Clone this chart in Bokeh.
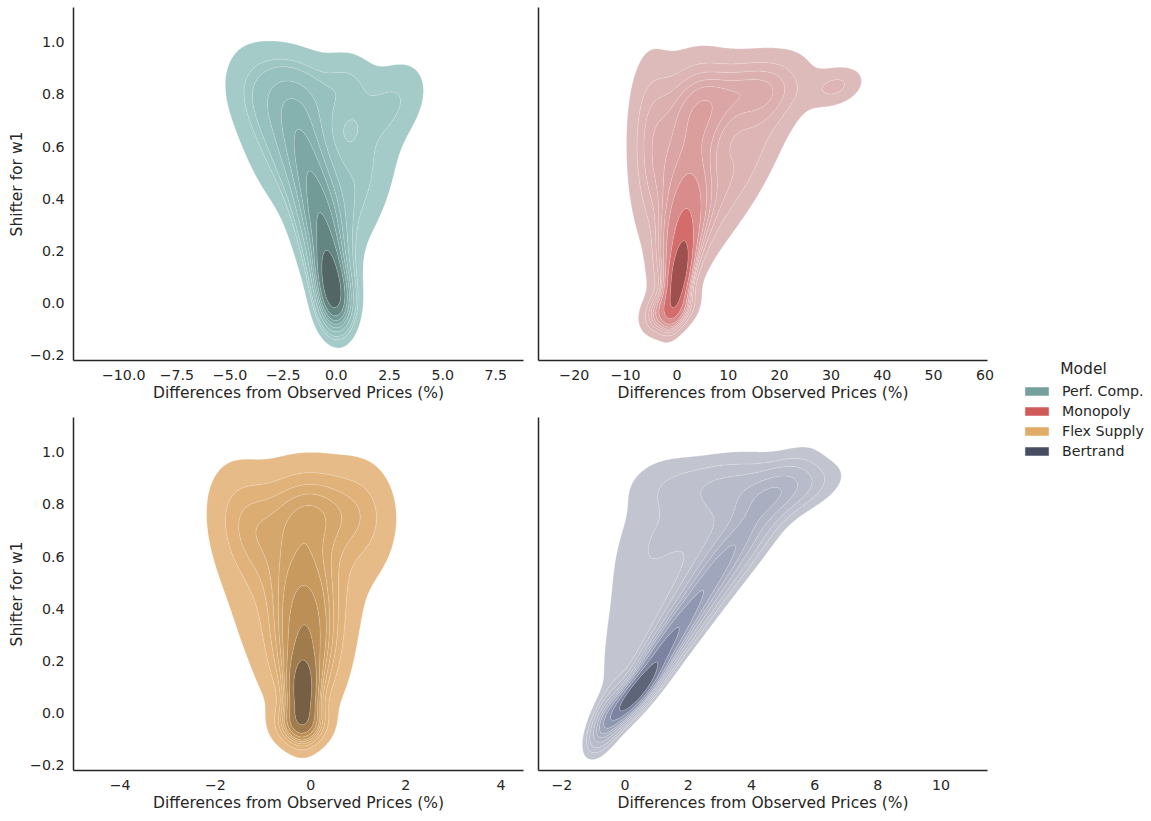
import math
import numpy as np
from bokeh.plotting import figure
from bokeh.layouts import row, column
from bokeh.models import FixedTicker, Legend, LegendItem, Label
from bokeh.embed import file_html
from bokeh.resources import INLINE

# ---------------- data ----------------
models = ["Perf. Comp.", "Monopoly", "Flex Supply", "Bertrand"]
model_colors = ["#76a09d", "#cf5a58", "#e0ac67", "#484e62"]

y_ticks = [-0.2, 0.0, 0.2, 0.4, 0.6, 0.8, 1.0]
y_tick_labels = ["\u22120.2", "0.0", "0.2", "0.4", "0.6", "0.8", "1.0"]

pc_x_ticks = [-10, -7.5, -5, -2.5, 0, 2.5, 5, 7.5]
pc_x_labels = ["\u221210.0", "\u22127.5", "\u22125.0", "\u22122.5", "0.0", "2.5", "5.0", "7.5"]
mo_x_ticks = [-20, -10, 0, 10, 20, 30, 40, 50, 60]
mo_x_labels = ["\u221220", "\u221210", "0", "10", "20", "30", "40", "50", "60"]
fs_x_ticks = [-4, -2, 0, 2, 4]
fs_x_labels = ["\u22124", "\u22122", "0", "2", "4"]
be_x_ticks = [-2, 0, 2, 4, 6, 8, 10]
be_x_labels = ["\u22122", "0", "2", "4", "6", "8", "10"]

# density components:
# centre x, centre y, spread x, spread y, correlation, weight
pc_mx = [-0.3, -0.5, -1.0, -1.6, -1.8, 0.9, -3.2, 0.0, 2.8, 0.6]
pc_my = [0.08, 0.22, 0.42, 0.62, 0.80, 0.45, 0.65, 0.0, 0.78, 0.85]
pc_sx = [0.45, 0.70, 0.85, 1.00, 1.70, 1.30, 1.20, 0.50, 1.00, 0.80]
pc_sy = [0.09, 0.14, 0.16, 0.15, 0.11, 0.20, 0.20, 0.07, 0.10, 0.08]
pc_rho = [-0.3, -0.5, -0.5, -0.4, -0.2, 0.5, -0.5, 0.0, 0.3, 0.0]
pc_w = [0.14, 0.16, 0.15, 0.13, 0.12, 0.12, 0.08, 0.06, 0.035, 0.02]

mo_mx = [0.4, 0.8, 2.0, 4.5, 15.0, 12.0, 31.0, -5.0, -1.5]
mo_my = [0.10, 0.25, 0.48, 0.75, 0.82, 0.50, 0.83, 0.60, -0.03]
mo_sx = [1.5, 2.8, 4.0, 5.0, 6.0, 7.0, 3.5, 3.0, 2.8]
mo_sy = [0.09, 0.14, 0.17, 0.13, 0.09, 0.22, 0.05, 0.22, 0.05]
mo_rho = [0.5, 0.4, 0.2, 0.0, 0.2, 0.8, 0.3, 0.0, 0.3]
mo_w = [0.13, 0.16, 0.16, 0.13, 0.10, 0.12, 0.02, 0.10, 0.05]

fs_mx = [-0.17, -0.12, -0.10, 0.0, -1.3, 1.1, -0.4, -0.2]
fs_my = [0.08, 0.25, 0.50, 0.78, 0.70, 0.74, 0.45, -0.04]
fs_sx = [0.20, 0.40, 0.50, 0.70, 0.50, 0.45, 0.90, 0.30]
fs_sy = [0.09, 0.14, 0.16, 0.11, 0.15, 0.14, 0.25, 0.05]
fs_rho = [0.0, 0.0, 0.0, 0.0, -0.3, 0.0, 0.0, 0.0]
fs_w = [0.13, 0.17, 0.15, 0.12, 0.08, 0.045, 0.14, 0.05]

be_mx = [0.3, 1.0, 2.1, 3.5, 5.0, 0.6, 3.0, -0.6, 2.8, -0.3]
be_my = [0.07, 0.20, 0.40, 0.64, 0.85, 0.60, 0.88, -0.03, 0.75, 0.22]
be_sx = [0.50, 0.70, 1.00, 1.20, 1.10, 0.90, 1.60, 0.35, 1.30, 0.35]
be_sy = [0.07, 0.12, 0.17, 0.18, 0.07, 0.25, 0.07, 0.07, 0.15, 0.15]
be_rho = [0.85, 0.9, 0.9, 0.88, 0.5, 0.4, 0.1, 0.6, 0.5, 0.5]
be_w = [0.14, 0.16, 0.17, 0.15, 0.06, 0.08, 0.06, 0.04, 0.10, 0.015]

# ---------------- HUSL helpers (sequential map from a colour seed) ----------------
HM = [[3.2406, -1.5372, -0.4986], [-0.9689, 1.8758, 0.0415], [0.0557, -0.2040, 1.0570]]
HM_INV = [[0.4124, 0.3576, 0.1805], [0.2126, 0.7152, 0.0722], [0.0193, 0.1192, 0.9505]]
REF_Y = 1.0
REF_U, REF_V = 0.19784, 0.46834
LAB_E, LAB_K = 0.008856, 903.3


def _max_chroma(L, H):
    hrad = math.radians(H)
    sin_h, cos_h = math.sin(hrad), math.cos(hrad)
    sub1 = (L + 16.0) ** 3 / 1560896.0
    sub2 = sub1 if sub1 > LAB_E else L / LAB_K
    result = float("inf")
    for m1, m2, m3 in HM:
        top = (0.99915 * m1 + 1.05122 * m2 + 1.14460 * m3) * sub2
        rbottom = 0.86330 * m3 - 0.17266 * m2
        lbottom = 0.12949 * m3 - 0.38848 * m1
        bottom = (rbottom * sin_h + lbottom * cos_h) * sub2
        for t in (0.0, 1.0):
            C = L * (top - 1.05122 * t) / (bottom + 0.17266 * sin_h * t)
            if 0.0 < C < result:
                result = C
    return result


def _f(t):
    return t ** (1.0 / 3.0) if t > LAB_E else 7.787 * t + 16.0 / 116.0


def _f_inv(t):
    return t ** 3 if t ** 3 > LAB_E else (116.0 * t - 16.0) / LAB_K


def _to_lin(c):
    return ((c + 0.055) / 1.055) ** 2.4 if c > 0.04045 else c / 12.92


def _from_lin(c):
    return 12.92 * c if c <= 0.0031308 else 1.055 * c ** (1 / 2.4) - 0.055


def rgb_to_husl(r, g, b):
    rl = [_to_lin(c) for c in (r, g, b)]
    X, Y, Z = [sum(a * v for a, v in zip(rw, rl)) for rw in HM_INV]
    den = X + 15 * Y + 3 * Z
    vu, vv = 4 * X / den, 9 * Y / den
    L = 116 * _f(Y / REF_Y) - 16
    U, V = 13 * L * (vu - REF_U), 13 * L * (vv - REF_V)
    C = math.hypot(U, V)
    H = math.degrees(math.atan2(V, U)) % 360
    return H, C / _max_chroma(L, H) * 100, L


def husl_to_rgb(H, S, L):
    C = _max_chroma(L, H) / 100 * S
    hr = math.radians(H)
    U, V = math.cos(hr) * C, math.sin(hr) * C
    Y = REF_Y * _f_inv((L + 16) / 116)
    vu = U / (13 * L) + REF_U
    vv = V / (13 * L) + REF_V
    X = -(9 * Y * vu) / ((vu - 4) * vv - vu * vv)
    Z = (9 * Y - 15 * vv * Y - vv * X) / (3 * vv)
    return [_from_lin(sum(a * v for a, v in zip(rw, (X, Y, Z)))) for rw in HM]


def seq_cmap(hexcol):
    r, g, b = (int(hexcol[i:i + 2], 16) / 255 for i in (1, 3, 5))
    h, s, _ = rgb_to_husl(r, g, b)
    xx = np.linspace(-1, 1, int(1.15 * 256))[:256]
    lig = np.linspace(35, 80, 256)
    cols = [np.clip(husl_to_rgb(h, s * np.cos(xx[i]), lig[i]), 0, 1) for i in range(256)]
    return cols[::-1]


def to_hex(c):
    return "#%02x%02x%02x" % tuple(int(round(v * 255)) for v in c)


# ---------------- density ----------------
def density(X, Y, mx, my, sx, sy, rho, w):
    Z = np.zeros_like(X)
    for a, b, c, d, r, ww in zip(mx, my, sx, sy, rho, w):
        dx = (X - a) / c
        dy = (Y - b) / d
        q = (dx * dx - 2 * r * dx * dy + dy * dy) / (1 - r * r)
        Z += ww / (2 * math.pi * c * d * math.sqrt(1 - r * r)) * np.exp(-0.5 * q)
    return Z


def iso_levels(Z, n=10, thresh=0.05):
    vals = np.sort(Z.ravel())[::-1]
    cum = np.cumsum(vals) / vals.sum()
    props = np.linspace(thresh, 1, n)
    idx = np.clip(np.searchsorted(cum, 1 - props), 0, len(vals) - 1)
    lev = vals[idx].astype(float)
    lev[-1] = vals[0] * 1.0005
    return lev


FONT = "DejaVu Sans"
TXT = "#262626"
Y_RANGE = (-0.2215, 1.1336)
TICK_FS = "14.2px"
LABEL_FS = "15.5px"


def make_panel(xr, comps, color, xt, xl, left, top):
    if left:
        kw = dict(width=530, min_border_left=73, min_border_right=7)
    else:
        kw = dict(width=470, min_border_left=8, min_border_right=13)
    if top:
        kw.update(height=410, min_border_top=7, min_border_bottom=50)
    else:
        kw.update(height=411, min_border_top=7, min_border_bottom=51)
    p = figure(x_range=xr, y_range=Y_RANGE, output_backend="svg",
               toolbar_location=None, **kw)
    p.grid.visible = False
    p.outline_line_color = None
    p.background_fill_color = "white"
    p.border_fill_color = "white"

    xs = np.linspace(xr[0], xr[1], 260)
    ys = np.linspace(Y_RANGE[0], Y_RANGE[1], 260)
    X, Y = np.meshgrid(xs, ys)
    Z = density(X, Y, *comps)
    lev = iso_levels(Z)
    cmap = seq_cmap(color)
    layers = 0.5 * (lev[:-1] + lev[1:])
    t = (layers - lev[0]) / (lev[-1] - lev[0])
    fills = [to_hex(cmap[int(np.clip(v * 256, 0, 255))]) for v in t]
    p.contour(xs, ys, Z, list(lev), fill_color=fills, line_color="white",
              line_alpha=0.3, line_width=0.7)

    p.xaxis.ticker = FixedTicker(ticks=xt, minor_ticks=[])
    p.xaxis.major_label_overrides = dict(zip(xt, xl))
    p.xaxis.axis_label = "Differences from Observed Prices (%)"
    p.xaxis.axis_label_standoff = 1
    p.xaxis.major_label_standoff = 9
    if left:
        p.yaxis.ticker = FixedTicker(ticks=y_ticks, minor_ticks=[])
        p.yaxis.major_label_overrides = dict(zip(y_ticks, y_tick_labels))
        p.yaxis.major_label_standoff = 9
        p.yaxis.axis_label = "Shifter for w1"
        p.yaxis.axis_label_standoff = 1
    else:
        p.yaxis.ticker = FixedTicker(ticks=[], minor_ticks=[])
        p.yaxis.major_label_standoff = 0
    for ax in (p.xaxis[0], p.yaxis[0]):
        ax.major_tick_out = 0
        ax.major_tick_in = 0
        ax.minor_tick_out = 0
        ax.minor_tick_in = 0
        ax.axis_line_color = TXT
        ax.axis_line_width = 1.5
        ax.major_label_text_font = FONT
        ax.major_label_text_font_size = TICK_FS
        ax.major_label_text_color = TXT
        ax.axis_label_text_font_size = LABEL_FS
        ax.axis_label_text_font_style = "normal"
        ax.axis_label_text_font = FONT
        ax.axis_label_text_color = TXT
    return p


p1 = make_panel((-12.36, 8.8), (pc_mx, pc_my, pc_sx, pc_sy, pc_rho, pc_w),
                model_colors[0], pc_x_ticks, pc_x_labels, True, True)
p2 = make_panel((-26.96, 60.5), (mo_mx, mo_my, mo_sx, mo_sy, mo_rho, mo_w),
                model_colors[1], mo_x_ticks, mo_x_labels, False, True)
p3 = make_panel((-4.98, 4.47), (fs_mx, fs_my, fs_sx, fs_sy, fs_rho, fs_w),
                model_colors[2], fs_x_ticks, fs_x_labels, True, False)
p4 = make_panel((-2.74, 11.47), (be_mx, be_my, be_sx, be_sy, be_rho, be_w),
                model_colors[3], be_x_ticks, be_x_labels, False, False)

# ---------------- legend panel ----------------
leg = figure(width=151, height=821, x_range=(0, 1), y_range=(0, 1), min_border=0,
             x_axis_location=None, y_axis_location=None, output_backend="svg",
             toolbar_location=None)
leg.grid.visible = False
leg.outline_line_color = None
items = []
for name, c in zip(models, model_colors):
    # placeholder swatch kept outside the visible range; only its legend entry shows
    r = leg.quad(left=[5], right=[6], top=[6], bottom=[5], fill_color=c,
                 line_color=c, line_alpha=0.5)
    items.append(LegendItem(label=name, renderers=[r]))
legend = Legend(items=items, location=(22, 362), padding=0, spacing=3,
                glyph_width=29, glyph_height=10, label_height=17, label_standoff=11,
                border_line_color=None, background_fill_alpha=0,
                label_text_font=FONT, label_text_font_size=TICK_FS,
                label_text_color=TXT)
leg.add_layout(legend, "center")
leg.add_layout(Label(x=83, y=453, x_units="screen", y_units="screen", text="Model",
                     text_align="center", text_baseline="middle", text_font=FONT,
                     text_font_size=LABEL_FS, text_color=TXT))

layout = row(column(p1, p3), column(p2, p4), leg)
open("out.html", "w").write(file_html(layout, INLINE))
